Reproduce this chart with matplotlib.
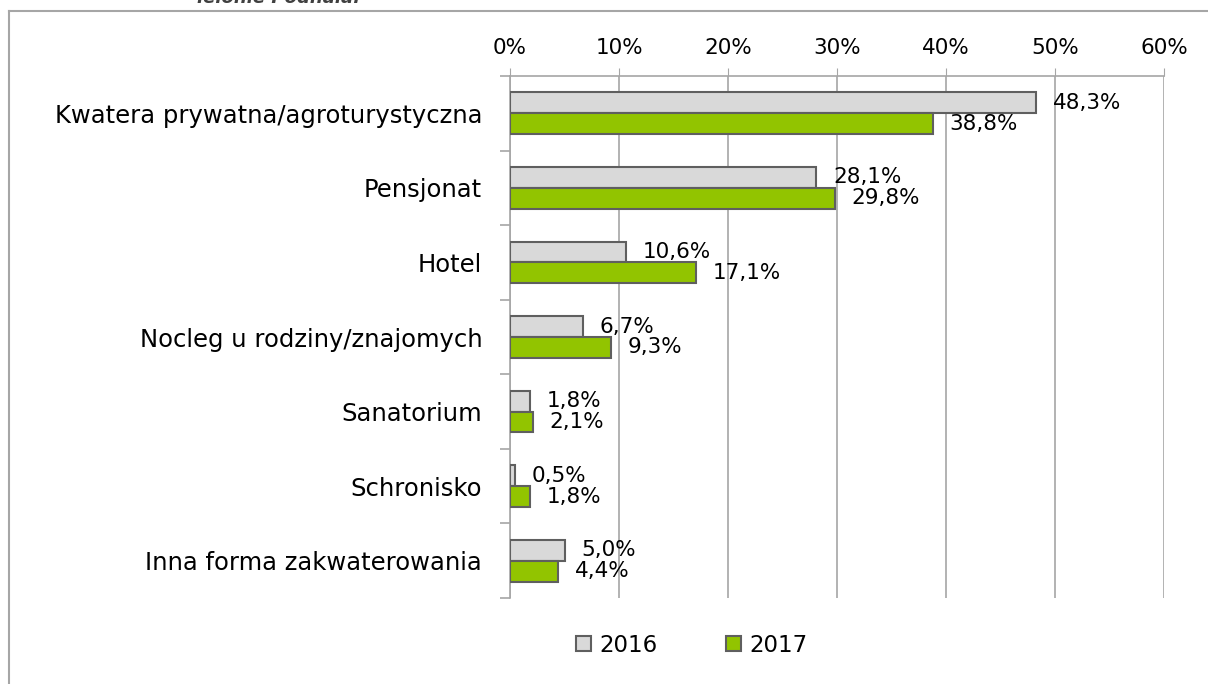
import matplotlib
matplotlib.use("Agg")
import matplotlib.pyplot as plt
from matplotlib.patches import Patch
from matplotlib.lines import Line2D

# data
categories = ["Kwatera prywatna/agroturystyczna", "Pensjonat", "Hotel",
              "Nocleg u rodziny/znajomych", "Sanatorium", "Schronisko",
              "Inna forma zakwaterowania"]
values_2016 = [48.3, 28.1, 10.6, 6.7, 1.8, 0.5, 5.0]
values_2017 = [38.8, 29.8, 17.1, 9.3, 2.1, 1.8, 4.4]
xticks = [0, 10, 20, 30, 40, 50, 60]

plt.rcParams['font.family'] = ['DejaVu Sans']
W, H = 1208, 684
fig = plt.figure(figsize=(W / 100, H / 100), dpi=100)

# axes placed in pixel terms
left, right, top, bottom = 510, 1164, 76, 598
ax = fig.add_axes([left / W, 1 - bottom / H, (right - left) / W, (bottom - top) / H])

grey = '#d9d9d9'
green = '#92c400'
edge = '#5f5f5f'
axcol = '#a6a6a6'
h = 0.28

y = range(len(categories))
y16 = [i - h / 2 for i in y]
y17 = [i + h / 2 for i in y]
ax.barh(y16, values_2016, height=h, color=grey, edgecolor=edge, linewidth=1.5, zorder=3)
ax.barh(y17, values_2017, height=h, color=green, edgecolor=edge, linewidth=1.5, zorder=3)

for yy, v in zip(y16, values_2016):
    ax.annotate(f"{v:.1f}%".replace('.', ','), (v, yy), xytext=(12, 0),
                textcoords='offset points', ha='left', va='center', fontsize=15.5, color='black')
for yy, v in zip(y17, values_2017):
    ax.annotate(f"{v:.1f}%".replace('.', ','), (v, yy), xytext=(12, 0),
                textcoords='offset points', ha='left', va='center', fontsize=15.5, color='black')

ax.set_xlim(0, 60)
ax.set_ylim(len(categories) - 0.5, -0.5)
ax.xaxis.tick_top()
ax.set_xticks(xticks)
ax.set_xticklabels([f"{t}%" for t in xticks], fontsize=15.5)
ax.tick_params(axis='x', direction='out', length=6, color=axcol, pad=7)
ax.grid(axis='x', color=axcol, linewidth=1.2, zorder=0)

ax.set_yticks(list(y))
ax.set_yticklabels(categories, fontsize=17.5)
ax.tick_params(axis='y', which='major', length=0, pad=20)
ax.set_yticks([i - 0.5 for i in range(len(categories) + 1)], minor=True)
ax.tick_params(axis='y', which='minor', direction='out', length=7, color=axcol, width=1.2)

for s in ['right', 'bottom']:
    ax.spines[s].set_visible(False)
for s in ['top', 'left']:
    ax.spines[s].set_color(axcol)
    ax.spines[s].set_linewidth(1.2)

# legend
handles = [Patch(facecolor=grey, edgecolor=edge, linewidth=1.5, label='2016'),
           Patch(facecolor=green, edgecolor=edge, linewidth=1.5, label='2017')]
fig.legend(handles=handles, loc='center', bbox_to_anchor=(692 / W, 1 - 645 / H),
           ncol=2, frameon=False, fontsize=16.5, handlelength=0.65, handleheight=0.65,
           handletextpad=0.35, columnspacing=3.0)

# outer chart frame (right and bottom edges are outside the image)
fig.add_artist(Line2D([9 / W, 9 / W], [0, 1 - 10.5 / H], color=axcol, linewidth=1.5))
fig.add_artist(Line2D([9 / W, 1], [1 - 10.5 / H, 1 - 10.5 / H], color=axcol, linewidth=1.5))

# caption cut off at the top edge, as in the source
fig.text(197 / W, 1 - 3 / H, "ielonie Podhala.", fontsize=13, fontweight='bold',
         fontstyle='italic', color='#404040', ha='left', va='baseline')

fig.savefig("out.png", dpi=100)
